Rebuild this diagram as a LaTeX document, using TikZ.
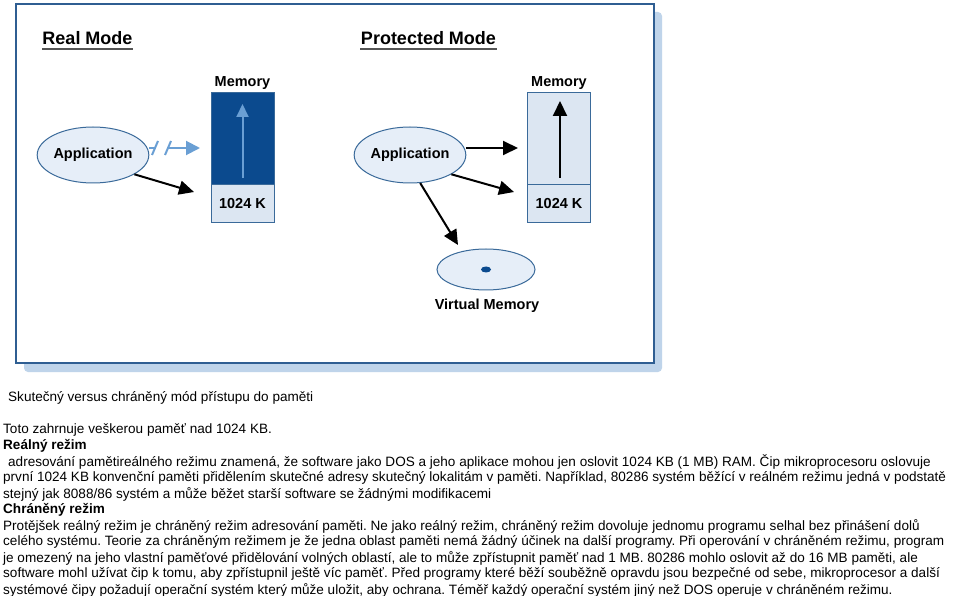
\documentclass[tikz,border=0pt]{standalone}
\usepackage{fontspec}
\setmainfont{Liberation Sans}
\usetikzlibrary{shapes.geometric,arrows.meta,calc}
\frenchspacing
\definecolor{frameblue}{HTML}{2F5E92}
\definecolor{shadowblue}{HTML}{BFD4EA}
\definecolor{memdark}{HTML}{0B4A8E}
\definecolor{memlight}{HTML}{DCE6F2}
\definecolor{ellfill}{HTML}{E6EEF8}
\definecolor{ellline}{HTML}{3A6A9A}
\definecolor{arrblue}{HTML}{6A9FD4}
\definecolor{ulgray}{HTML}{555555}
\tikzset{
  appnode/.style={ellipse,draw=ellline,line width=1pt,fill=ellfill,minimum width=98pt,minimum height=56pt,inner sep=0pt,font=\fontsize{14.5}{16}\selectfont\bfseries},
  memhi/.style={rectangle,draw=ellline,line width=1pt,minimum width=63pt,minimum height=92pt,inner sep=0pt},
  memlo/.style={rectangle,draw=ellline,line width=1pt,fill=memlight,minimum width=63pt,minimum height=38pt,inner sep=0pt,font=\fontsize{14.5}{16}\selectfont\bfseries},
  lab/.style={font=\fontsize{14.5}{16}\selectfont\bfseries,inner sep=0pt},
  ttl/.style={font=\fontsize{18}{20}\selectfont\bfseries,inner sep=0pt},
  blk/.style={draw=black,line width=2pt,-{Triangle[length=15pt,width=14pt]}},
  body/.style={anchor=west,inner sep=0pt,font=\fontsize{13.55}{16}\selectfont},
  bodyb/.style={anchor=west,inner sep=0pt,font=\fontsize{13.55}{16}\selectfont\bfseries},
}
\begin{document}
\begin{tikzpicture}[x=1pt,y=-1pt]
\useasboundingbox (0,0) rectangle (959,596);
\fill[white] (0,0) rectangle (959,596);
% frame with shadow
\fill[shadowblue,rounded corners=4pt] (24,12) rectangle (662,372);
\draw[frameblue,line width=1.6pt,fill=white] (16,4) rectangle (654,363);
% titles
\node[ttl] (t1) at (87.5,38) {Real Mode};
\draw[ulgray,line width=1.5pt] (42,49) -- (133,49);
\node[ttl] (t2) at (428.5,38) {Protected Mode};
\draw[ulgray,line width=1.5pt] (360,49) -- (497,49);
% left memory
\node[lab] (m1lab) at (242.5,83) {Memory};
\node[memhi,fill=memdark] (m1top) at (242.5,139) {};
\node[memlo] (m1bot) at (242.5,204) {1024 K};
\coordinate (m1a) at (242.5,178);
\coordinate (m1b) at (242.5,104);
\draw[arrblue,line width=2pt,-{Triangle[length=13pt,width=12pt]}] (m1a) -- (m1b);
% left application
\node[appnode] (app1) at (93,155) {Application};
\coordinate (b1) at (155,148);
\coordinate (b2) at (168,148);
\coordinate (bend) at (200,148);
\draw[arrblue,line width=2pt] (app1.east |- b1) -- (b1);
\draw[arrblue,line width=2pt] ($(b1)+(-3,7)$) -- ($(b1)+(3,-7)$);
\draw[arrblue,line width=2pt] ($(b2)+(-3,7)$) -- ($(b2)+(3,-7)$);
\draw[arrblue,line width=2pt,-{Triangle[length=14pt,width=14pt]}] (b2) -- (bend);
\coordinate (e1) at (194,192);
\draw[blk] (app1.-25) -- (e1);
% right memory
\node[lab] (m2lab) at (559,83) {Memory};
\node[memhi,fill=memlight] (m2top) at (559,138.5) {};
\node[memlo] (m2bot) at (559,203.5) {1024 K};
\coordinate (m2a) at (560,178);
\coordinate (m2b) at (560,101);
\draw[blk] (m2a) -- (m2b);
% right application
\node[appnode] (app2) at (410,155) {Application};
\coordinate (e2) at (518,148);
\coordinate (e3) at (514,192);
\coordinate (e4) at (458,245);
\draw[blk] (app2.east |- e2) -- (e2);
\draw[blk] (app2.-25) -- (e3);
\draw[blk] (app2.-70) -- (e4);
% virtual memory
\node[ellipse,draw=ellline,line width=1pt,fill=ellfill,minimum width=98pt,minimum height=41pt,inner sep=0pt] (vm) at (486,269.5) {};
\fill[memdark] (vm.center) ellipse (5pt and 3pt);
\node[lab] (vmlab) at (487,306) {Virtual Memory};
% text
\node[body] (l1) at (8,398) {Skutečný versus chráněný mód přístupu do paměti};
\node[body] (l2) at (3,430) {Toto zahrnuje veškerou paměť nad 1024 KB.};
\node[bodyb] (l3) at (3,446) {Reálný režim};
\node[body] (l4) at (8,462) {adresování pamětireálného režimu znamená, že software jako DOS a jeho aplikace mohou jen oslovit 1024 KB (1 MB) RAM. Čip mikroprocesoru oslovuje};
\node[body] (l5) at (3,478) {první 1024 KB konvenční paměti přidělením skutečné adresy skutečný lokalitám v paměti. Například, 80286 systém běžící v reálném režimu jedná v podstatě};
\node[body] (l6) at (3,494) {stejný jak 8088/86 systém a může běžet starší software se žádnými modifikacemi};
\node[bodyb] (l7) at (3,510) {Chráněný režim};
\node[body] (l8) at (3,526) {Protějšek reálný režim je chráněný režim adresování paměti. Ne jako reálný režim, chráněný režim dovoluje jednomu programu selhal bez přinášení dolů};
\node[body] (l9) at (3,542) {celého systému. Teorie za chráněným režimem je že jedna oblast paměti nemá žádný účinek na další programy. Při operování v chráněném režimu, program};
\node[body] (l10) at (3,558) {je omezený na jeho vlastní paměťové přidělování volných oblastí, ale to může zpřístupnit paměť nad 1 MB. 80286 mohlo oslovit až do 16 MB paměti, ale};
\node[body] (l11) at (3,574) {software mohl užívat čip k tomu, aby zpřístupnil ještě víc paměť. Před programy které běží souběžně opravdu jsou bezpečné od sebe, mikroprocesor a další};
\node[body] (l12) at (3,590) {systémové čipy požadují operační systém který může uložit, aby ochrana. Téměř každý operační systém jiný než DOS operuje v chráněném režimu.};
\end{tikzpicture}
\end{document}
